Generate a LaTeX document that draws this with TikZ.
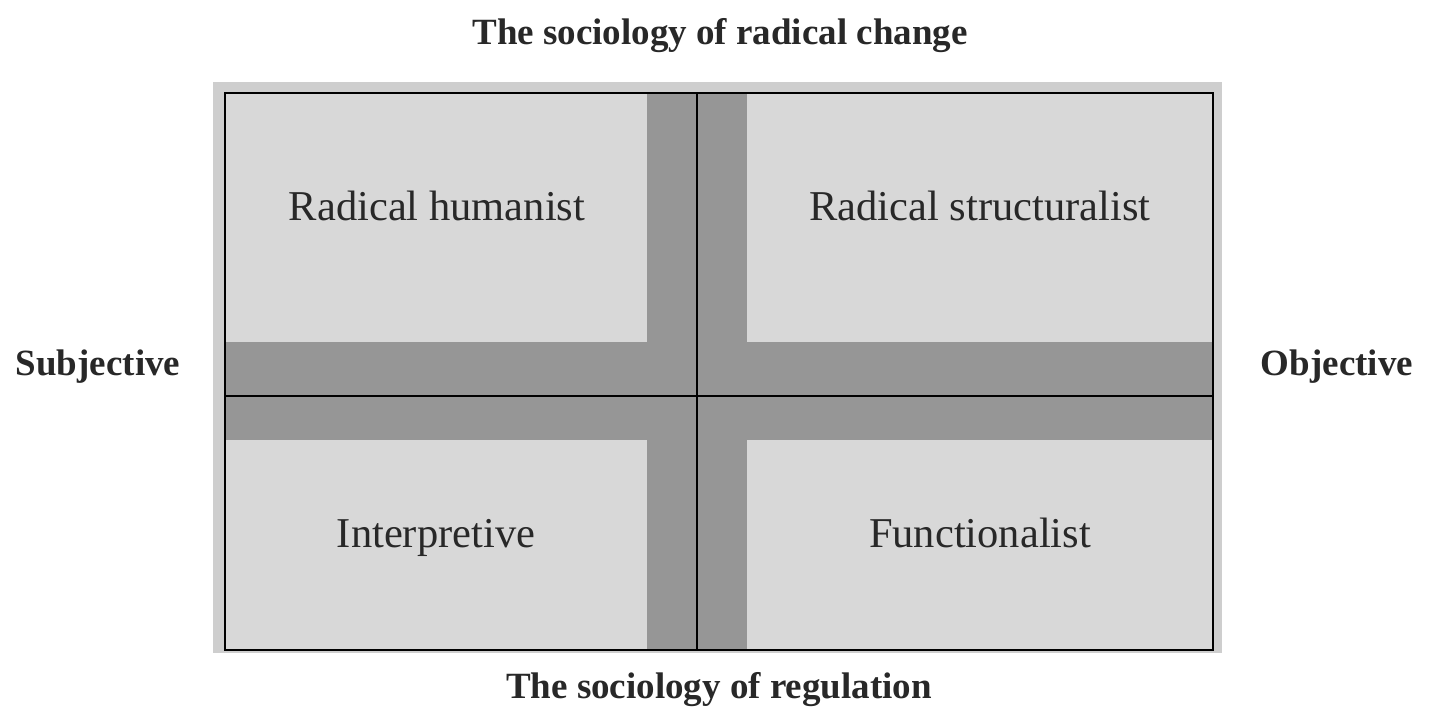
\documentclass[tikz,border=0pt]{standalone}
\usepackage{fontspec}
\setmainfont{Liberation Serif}
\definecolor{panel}{RGB}{216,216,216}
\definecolor{frame}{RGB}{206,206,206}
\definecolor{band}{RGB}{150,150,150}
\definecolor{ink}{RGB}{40,40,40}
\begin{document}
\begin{tikzpicture}[x=1pt,y=-1pt,
  title/.style={font=\bfseries\fontsize{37}{42}\selectfont, text=ink, anchor=base, inner sep=0pt},
  quad/.style={font=\fontsize{42.5}{48}\selectfont, text=ink, anchor=base, inner sep=0pt},
  axis/.style={draw=black, line width=1.3pt}]
\useasboundingbox (0,0) rectangle (1429,711);
\fill[white] (0,0) rectangle (1429,711);
\fill[frame] (213,82) rectangle (1222,653);
\fill[panel] (225,93) rectangle (1213,650);
\fill[band] (647,93) rectangle (747,650);
\fill[band] (225,342) rectangle (1213,440);
\draw[black, line width=1.3pt] (225,93) rectangle (1213,650);
\coordinate (top) at (697,93);
\coordinate (bot) at (697,650);
\coordinate (lft) at (225,396);
\coordinate (rgt) at (1213,396);
\draw[axis] (top) -- (bot);
\draw[axis] (lft) -- (rgt);
\node[title] (tt) at (720,45) {The sociology of radical change};
\node[title] (bt) at (719,698) {The sociology of regulation};
\node[title] (sub) at (98,375) {Subjective};
\node[title] (obj) at (1337,375) {Objective};
\node[quad] (rh) at (437,221) {Radical humanist};
\node[quad] (rs) at (980,221) {Radical structuralist};
\node[quad] (ip) at (436,547) {Interpretive};
\node[quad] (fn) at (980,547) {Functionalist};
\end{tikzpicture}
\end{document}
